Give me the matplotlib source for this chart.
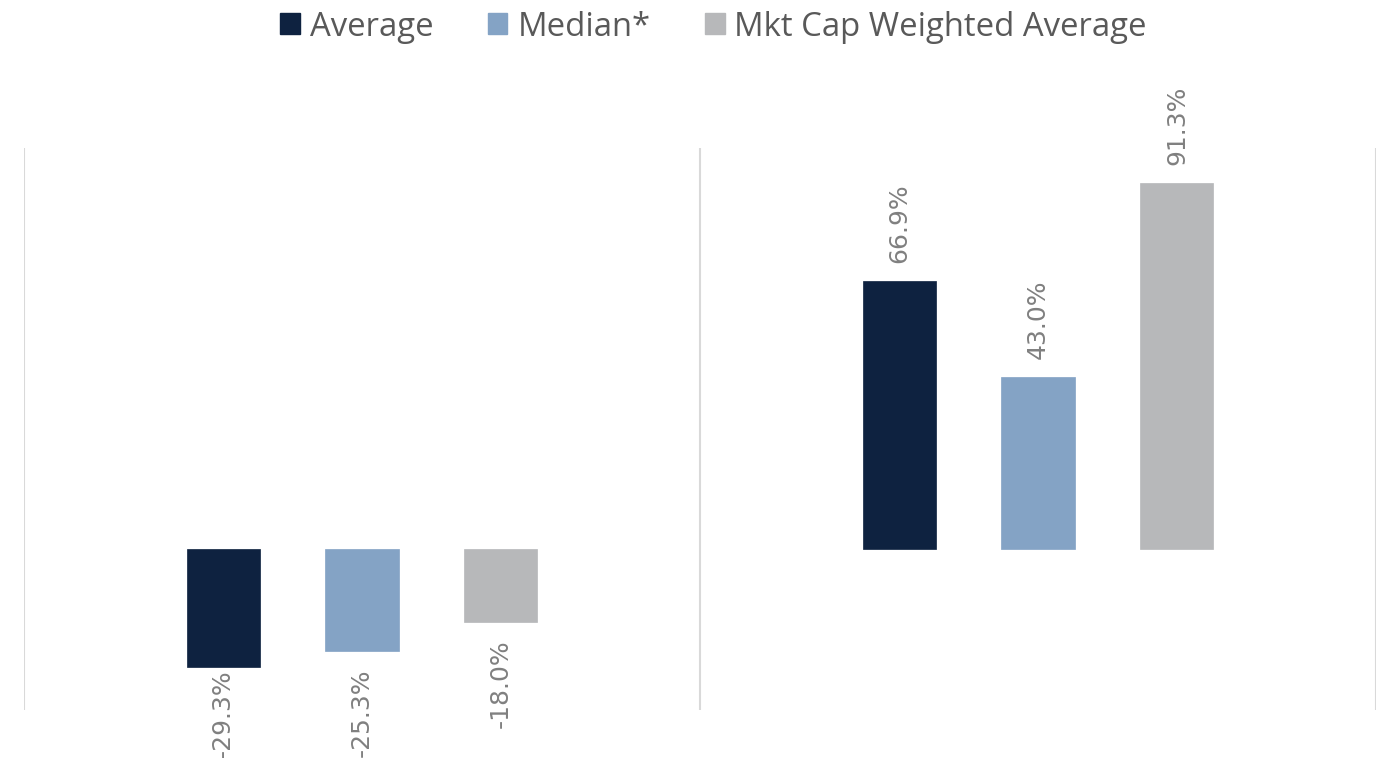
import matplotlib
matplotlib.use("Agg")
import matplotlib.pyplot as plt
from matplotlib.patches import Patch
import numpy as np

groups = ["Group 1", "Group 2"]
series_names = ["Average", "Median*", "Mkt Cap Weighted Average"]
average = [-29.3, 66.9]
median = [-25.3, 43.0]
mkt_cap = [-18.0, 91.3]
colors = ["#0E2240", "#84A3C5", "#B7B8BA"]

fig = plt.figure(figsize=(13.82, 7.58), dpi=100)
ax = fig.add_axes([24/1382, 1-710/758, 1352/1382, 562/758])

x = np.arange(len(groups))
pitch = 0.2056
width = 0.108
texts = []
for i, (vals, col) in enumerate(zip([average, median, mkt_cap], colors)):
    xs = x + (i - 1) * pitch
    ax.bar(xs, vals, width=width, color=col, edgecolor=col, linewidth=0.5, zorder=3)
    for xi, v in zip(xs, vals):
        off = 18 if v >= 0 else -18
        t = ax.annotate(f"{v:.1f}%", (xi, v), xytext=(0, off * 0.72), textcoords="offset points",
                        rotation=90, ha="center", va="bottom" if v >= 0 else "top",
                        fontsize=18, color="#808080", annotation_clip=False)
        texts.append(t)

ax.set_xlim(-0.5, 1.5)
ax.set_ylim(-40, 100)
for s in ax.spines.values():
    s.set_visible(False)
ax.set_xticks([])
ax.set_yticks([])
for xv in [-0.5, 0.5, 1.5]:
    ax.axvline(xv, color="#D9D9D9", linewidth=1.5, zorder=1)

# keep labels inside the figure (as the original does)
fig.canvas.draw()
r = fig.canvas.get_renderer()
for t in texts:
    bb = t.get_window_extent(r)
    if bb.y0 < 0:
        dy = -bb.y0
        ox, oy = t.xyann
        t.xyann = (ox, oy + dy * 72 / fig.dpi)

handles = [Patch(facecolor=c, edgecolor=c) for c in colors]
leg = fig.legend(handles, series_names, loc="center", bbox_to_anchor=(713.5/1382, 1-27/758), ncol=3,
                 frameon=False, handlelength=0.6, handleheight=0.6,
                 handletextpad=0.3, columnspacing=1.65, borderpad=0, borderaxespad=0,
                 prop={"family": "Open Sans", "size": 23.7})
for t in leg.get_texts():
    t.set_color("#595959")

fig.savefig("out.png", dpi=100)
